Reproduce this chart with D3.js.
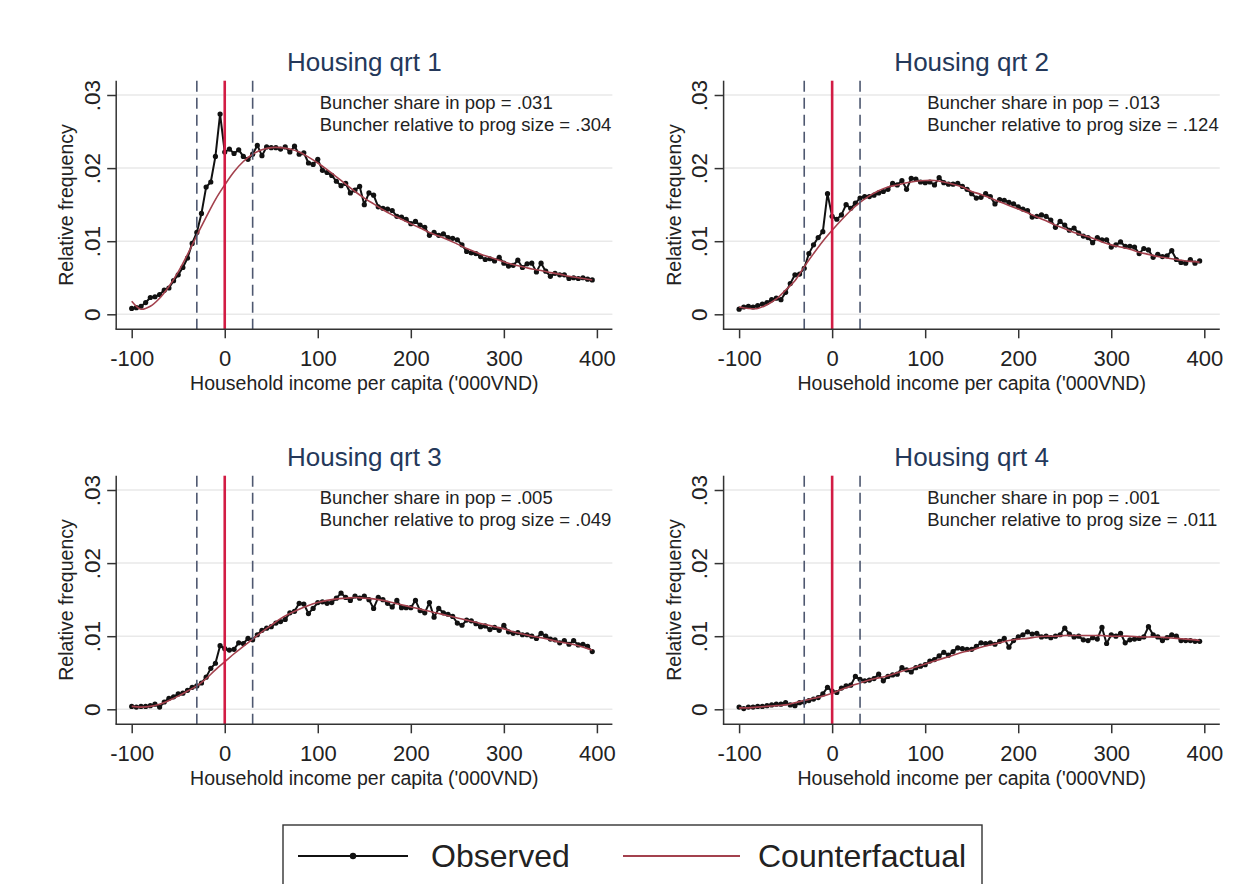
<!DOCTYPE html>
<html>
<head>
<meta charset="utf-8">
<script src="https://cdn.jsdelivr.net/npm/d3@7"></script>
<style>
  body { margin: 0; background: #fff; }
  svg { display: block; }
  text { font-family: "Liberation Sans", Arial, sans-serif; }
</style>
</head>
<body>
<svg id="chart" width="1257" height="884"></svg>
<script>
// ---- data ----
const panelTitles = ["Housing qrt 1", "Housing qrt 2", "Housing qrt 3", "Housing qrt 4"];
const buncherShare = [".031", ".013", ".005", ".001"];
const buncherRel = [".304", ".124", ".049", ".011"];

const xTicks = [-100, 0, 100, 200, 300, 400];
const yTicks = [0, 0.01, 0.02, 0.03];
const yTickLabels = ["0", ".01", ".02", ".03"];
const bandEdges = [-30, 30];
const threshold = 0;
const legendLabels = ["Observed", "Counterfactual"];

// income bins ('000VND relative to the poverty line)
const obsX = [
  -100, -95, -90, -85, -80, -75, -70, -65, -60, -55,
  -50, -45, -40, -35, -30, -25, -20, -15, -10, -5,
  0, 5, 10, 15, 20, 25, 30, 35, 40, 45,
  50, 55, 60, 65, 70, 75, 80, 85, 90, 95,
  100, 105, 110, 115, 120, 125, 130, 135, 140, 145,
  150, 155, 160, 165, 170, 175, 180, 185, 190, 195,
  200, 205, 210, 215, 220, 225, 230, 235, 240, 245,
  250, 255, 260, 265, 270, 275, 280, 285, 290, 295,
  300, 305, 310, 315, 320, 325, 330, 335, 340, 345,
  350, 355, 360, 365, 370, 375, 380, 385, 390, 395
];
const cfX = [
  -100, -90, -80, -70, -60, -50, -40, -30, -20, -10,
  0, 10, 20, 30, 40, 50, 60, 70, 80, 90,
  100, 110, 120, 130, 140, 150, 160, 170, 180, 190,
  200, 210, 220, 230, 240, 250, 260, 270, 280, 290,
  300, 310, 320, 330, 340, 350, 360, 370, 380, 390, 395
];

const obsQ1 = [
  .0008, .0009, .0011, .0016, .0023, .0024, .0027, .0033, .0036, .0046,
  .0054, .0064, .0077, .0097, .0112, .0138, .0174, .0181, .0216, .0274,
  .0222, .0226, .0220, .0225, .0216, .0212, .0219, .0231, .0217, .0229,
  .0228, .0228, .0226, .0229, .0222, .0230, .0219, .0221, .0207, .0205,
  .0212, .0197, .0194, .0190, .0182, .0176, .0179, .0166, .0170, .0175,
  .0150, .0166, .0163, .0147, .0145, .0144, .0142, .0134, .0133, .0130,
  .0124, .0127, .0122, .0119, .0108, .0112, .0108, .0110, .0105, .0104,
  .0102, .0095, .0086, .0084, .0083, .0079, .0075, .0076, .0073, .0078,
  .0070, .0066, .0067, .0074, .0064, .0069, .0070, .0058, .0070, .0059,
  .0052, .0056, .0054, .0054, .0049, .0050, .0049, .0050, .0048, .0047
];
const cfQ1 = [
  .0018, .0007, .0011, .0022, .0038, .0058, .0082, .0108, .0133, .0157,
  .0177, .0195, .0209, .0219, .0225, .0228, .0228, .0226, .0222, .0215,
  .0207, .0198, .0188, .0178, .0168, .0159, .0151, .0143, .0136, .0130,
  .0124, .0118, .0112, .0107, .0102, .0096, .0090, .0085, .0080, .0076,
  .0072, .0068, .0065, .0062, .0060, .0057, .0055, .0052, .0050, .0048, .0047
];

const obsQ2 = [
  .0007, .0010, .0011, .0010, .0012, .0014, .0016, .0020, .0022, .0020,
  .0030, .0042, .0054, .0055, .0063, .0083, .0095, .0105, .0113, .0165,
  .0134, .0130, .0136, .0150, .0145, .0152, .0159, .0161, .0161, .0163,
  .0166, .0168, .0171, .0179, .0177, .0183, .0171, .0186, .0185, .0181,
  .0180, .0181, .0177, .0187, .0180, .0178, .0178, .0179, .0175, .0171,
  .0165, .0159, .0160, .0165, .0161, .0151, .0157, .0156, .0153, .0151,
  .0147, .0144, .0142, .0133, .0134, .0136, .0134, .0129, .0119, .0127,
  .0122, .0115, .0118, .0111, .0107, .0105, .0098, .0105, .0102, .0102,
  .0092, .0095, .0099, .0093, .0093, .0092, .0083, .0090, .0088, .0078,
  .0082, .0079, .0080, .0087, .0075, .0071, .0070, .0075, .0070, .0073
];
const cfQ2 = [
  .0010, .0008, .0008, .0013, .0021, .0033, .0046, .0065, .0083, .0100,
  .0115, .0129, .0142, .0153, .0162, .0169, .0174, .0177, .0180, .0182,
  .0183, .0183, .0181, .0178, .0174, .0168, .0164, .0159, .0154, .0149,
  .0144, .0139, .0133, .0128, .0122, .0117, .0112, .0108, .0104, .0099,
  .0095, .0092, .0089, .0085, .0082, .0079, .0077, .0075, .0073, .0072, .0071
];

const obsQ3 = [
  .0004, .0003, .0004, .0004, .0005, .0007, .0003, .0010, .0015, .0017,
  .0021, .0022, .0026, .0030, .0032, .0036, .0044, .0056, .0063, .0087,
  .0083, .0081, .0082, .0091, .0090, .0097, .0095, .0102, .0108, .0111,
  .0113, .0118, .0120, .0123, .0132, .0134, .0145, .0144, .0131, .0138,
  .0146, .0147, .0145, .0146, .0152, .0159, .0153, .0149, .0155, .0152,
  .0155, .0150, .0138, .0153, .0150, .0145, .0140, .0149, .0139, .0139,
  .0139, .0149, .0135, .0132, .0146, .0126, .0138, .0132, .0130, .0127,
  .0118, .0115, .0122, .0121, .0117, .0113, .0114, .0109, .0112, .0108,
  .0115, .0106, .0104, .0105, .0102, .0102, .0100, .0097, .0104, .0100,
  .0096, .0095, .0091, .0094, .0089, .0094, .0088, .0089, .0086, .0079
];
const cfQ3 = [
  .0004, .0003, .0004, .0007, .0012, .0018, .0025, .0032, .0042, .0054,
  .0065, .0076, .0086, .0096, .0106, .0115, .0124, .0131, .0137, .0142,
  .0146, .0149, .0151, .0152, .0153, .0152, .0151, .0149, .0146, .0143,
  .0140, .0137, .0134, .0131, .0128, .0125, .0122, .0119, .0116, .0113,
  .0110, .0106, .0103, .0100, .0098, .0095, .0092, .0090, .0087, .0083, .0081
];

const obsQ4 = [
  .0003, .0001, .0003, .0003, .0004, .0004, .0005, .0006, .0007, .0007,
  .0009, .0006, .0005, .0009, .0010, .0012, .0014, .0016, .0021, .0030,
  .0025, .0023, .0029, .0032, .0033, .0045, .0041, .0039, .0040, .0042,
  .0048, .0039, .0045, .0047, .0048, .0057, .0054, .0051, .0057, .0059,
  .0061, .0066, .0068, .0073, .0078, .0074, .0079, .0084, .0083, .0082,
  .0082, .0086, .0091, .0090, .0091, .0089, .0093, .0097, .0085, .0094,
  .0099, .0102, .0106, .0103, .0104, .0099, .0100, .0098, .0100, .0102,
  .0111, .0103, .0099, .0100, .0095, .0094, .0098, .0096, .0112, .0090,
  .0102, .0100, .0104, .0091, .0095, .0096, .0097, .0099, .0113, .0102,
  .0099, .0094, .0098, .0102, .0100, .0094, .0094, .0094, .0093, .0093
];
const cfQ4 = [
  .0002, .0002, .0003, .0004, .0005, .0006, .0009, .0012, .0015, .0018,
  .0022, .0027, .0032, .0036, .0040, .0043, .0046, .0050, .0054, .0058,
  .0062, .0066, .0070, .0074, .0078, .0081, .0085, .0088, .0091, .0094,
  .0096, .0097, .0099, .0100, .0100, .0101, .0101, .0101, .0101, .0101,
  .0100, .0100, .0100, .0099, .0099, .0099, .0098, .0097, .0096, .0095, .0094
];

const observedSeries = [obsQ1, obsQ2, obsQ3, obsQ4];
const counterfactualSeries = [cfQ1, cfQ2, cfQ3, cfQ4];

// ---- styling ----
const FONT = '"Liberation Sans", Arial, sans-serif';
const colObs = "#111111";
const colCf = "#a3414d";
const colThreshold = "#d21c44";
const colBand = "#4e5870";
const colGrid = "#e9e9e9";
const colAxis = "#333333";
const colTitle = "#24385a";
const colText = "#222222";

const svg = d3.select("#chart");
svg.append("rect").attr("width", 1257).attr("height", 884).attr("fill", "#fff");

// pixel anchor of x=-100 and y=0 for each panel
const panelAnchors = [[131.7, 314.3], [739.1, 314.3], [131.7, 709.3], [739.1, 709.3]];

panelAnchors.forEach(([ax, ay], p) => {
  const x = d3.scaleLinear().domain([-100, 400]).range([ax, ax + 465.2]);
  const y = d3.scaleLinear().domain([0, 0.03]).range([ay, ay - 219.3]);

  const left = x(-100) - 15.5, right = x(400) + 15.5;
  const top = y(0.03) - 14.3, bottom = y(0) + 15;

  const g = svg.append("g");

  // gridlines
  g.selectAll("line.grid").data(yTicks).join("line")
    .attr("x1", left).attr("x2", right)
    .attr("y1", d => y(d)).attr("y2", d => y(d))
    .attr("stroke", colGrid).attr("stroke-width", 1.5);

  const obs = obsX.map((v, i) => [v, observedSeries[p][i]]);
  const cf = cfX.map((v, i) => [v, counterfactualSeries[p][i]]);

  // observed series: connected markers
  g.append("path").datum(obs)
    .attr("d", d3.line().x(d => x(d[0])).y(d => y(d[1])))
    .attr("fill", "none").attr("stroke", colObs).attr("stroke-width", 2)
    .attr("stroke-linejoin", "round");
  g.selectAll("circle.obs").data(obs).join("circle")
    .attr("cx", d => x(d[0])).attr("cy", d => y(d[1])).attr("r", 2.6)
    .attr("fill", colObs);

  // counterfactual density
  g.append("path").datum(cf)
    .attr("d", d3.line().curve(d3.curveCatmullRom).x(d => x(d[0])).y(d => y(d[1])))
    .attr("fill", "none").attr("stroke", colCf).attr("stroke-width", 1.6);

  // excluded window and threshold
  g.selectAll("line.band").data(bandEdges).join("line")
    .attr("x1", d => x(d)).attr("x2", d => x(d))
    .attr("y1", top).attr("y2", bottom)
    .attr("stroke", colBand).attr("stroke-width", 1.6)
    .attr("stroke-dasharray", "11,6");
  g.append("line")
    .attr("x1", x(threshold)).attr("x2", x(threshold))
    .attr("y1", top).attr("y2", bottom)
    .attr("stroke", colThreshold).attr("stroke-width", 2.6);

  // spines
  g.append("line").attr("x1", left).attr("x2", left).attr("y1", top).attr("y2", bottom)
    .attr("stroke", colAxis).attr("stroke-width", 1.5);
  g.append("line").attr("x1", left - 0.75).attr("x2", right).attr("y1", bottom).attr("y2", bottom)
    .attr("stroke", colAxis).attr("stroke-width", 1.5);

  // x axis
  const xa = g.append("g").attr("transform", `translate(0,${bottom})`)
    .call(d3.axisBottom(x).tickValues(xTicks).tickSize(9).tickFormat(d3.format("d")));
  xa.select(".domain").remove();
  xa.selectAll(".tick line").attr("stroke", colAxis).attr("stroke-width", 1.5);
  xa.selectAll(".tick text").attr("y", 36.5).attr("dy", null)
    .attr("font-size", 22).attr("font-family", FONT).attr("fill", colText)
    .text(d => d < 0 ? "-" + Math.abs(d) : d);

  // y axis
  const ya = g.append("g").attr("transform", `translate(${left},0)`)
    .call(d3.axisLeft(y).tickValues(yTicks).tickSize(9).tickFormat((d, i) => yTickLabels[i]));
  ya.select(".domain").remove();
  ya.selectAll(".tick line").attr("stroke", colAxis).attr("stroke-width", 1.5);
  ya.selectAll(".tick text").attr("x", 0).attr("y", 0).attr("dy", null)
    .attr("text-anchor", "middle")
    .attr("transform", "translate(-16.6,0) rotate(-90)")
    .attr("font-size", 22.5).attr("font-family", FONT).attr("fill", colText);

  // titles
  g.append("text").attr("x", (left + right) / 2).attr("y", top - 10)
    .attr("text-anchor", "middle").attr("font-size", 26).attr("fill", colTitle)
    .text(panelTitles[p]);
  g.append("text").attr("x", (left + right) / 2).attr("y", bottom + 61)
    .attr("text-anchor", "middle").attr("font-size", 19.5).attr("fill", colText)
    .text("Household income per capita ('000VND)");
  g.append("text")
    .attr("transform", `translate(${left - 43},${(top + bottom) / 2}) rotate(-90)`)
    .attr("text-anchor", "middle").attr("font-size", 19.5).attr("fill", colText)
    .text("Relative frequency");

  // bunching statistics
  const ann = g.append("text").attr("font-size", 18.5).attr("fill", colText);
  ann.append("tspan").attr("x", x(0) + 95).attr("y", y(0.03) + 14)
    .text(`Buncher share in pop = ${buncherShare[p]}`);
  ann.append("tspan").attr("x", x(0) + 95).attr("y", y(0.03) + 36)
    .text(`Buncher relative to prog size = ${buncherRel[p]}`);
});

// ---- legend ----
const lg = svg.append("g");
lg.append("rect").attr("x", 283).attr("y", 825).attr("width", 699).attr("height", 80)
  .attr("fill", "#fff").attr("stroke", colAxis).attr("stroke-width", 1.4);
lg.append("line").attr("x1", 298).attr("x2", 408).attr("y1", 856).attr("y2", 856)
  .attr("stroke", colObs).attr("stroke-width", 2);
lg.append("circle").attr("cx", 353).attr("cy", 856).attr("r", 3.2).attr("fill", colObs);
lg.append("text").attr("x", 431).attr("y", 867).attr("font-size", 32).attr("fill", colText)
  .text(legendLabels[0]);
lg.append("line").attr("x1", 623).attr("x2", 740).attr("y1", 856).attr("y2", 856)
  .attr("stroke", colCf).attr("stroke-width", 2);
lg.append("text").attr("x", 758).attr("y", 867).attr("font-size", 32).attr("fill", colText)
  .text(legendLabels[1]);
</script>
</body>
</html>
